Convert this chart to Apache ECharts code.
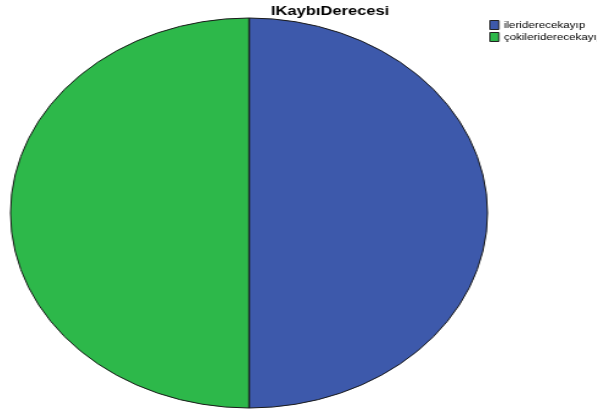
<!DOCTYPE html>
<html><head><meta charset="utf-8">
<script src="https://cdn.jsdelivr.net/npm/echarts@6/dist/echarts.min.js"></script>
<style>
html,body{margin:0;padding:0;background:#fff;overflow:hidden;}
#wrap{position:relative;width:597px;height:416px;overflow:hidden;}
#pie{position:absolute;left:0;top:0;width:498px;height:416px;transform-origin:249px 213px;transform:scaleX(1.2231);}
#over{position:absolute;left:0;top:0;width:560px;height:416px;transform-origin:0 0;transform:scaleX(1.2231);}
</style></head>
<body><div id="wrap"><div id="pie"></div><div id="over"></div></div>
<script>
const titleText = 'IKaybıDerecesi';
const categories = ['ileriderecekayıp', 'çokileriderecekayıp'];
const values = [50, 50];
const colors = ['#3D59AB', '#2DB84A'];

const data = categories.map((c, i) => ({name: c, value: values[i], itemStyle: {color: colors[i]}}));

const pie = echarts.init(document.getElementById('pie'), null, {renderer: 'canvas'});
pie.setOption({
  animation: false,
  series: [{
    type: 'pie',
    center: [249, 213],
    radius: [0, 195],
    startAngle: 90,
    clockwise: true,
    label: {show: false},
    labelLine: {show: false},
    emphasis: {disabled: true},
    itemStyle: {borderColor: '#1a1a1a', borderWidth: 1},
    data: data
  }]
});

const over = echarts.init(document.getElementById('over'), null, {renderer: 'canvas'});
over.setOption({
  animation: false,
  title: {
    text: titleText,
    left: 264.8, top: -1, textAlign: 'center',
    textStyle: {fontFamily: 'Liberation Sans', fontWeight: 'bold', fontSize: 13.5, color: '#000'}
  },
  legend: {
    orient: 'vertical',
    left: 395, top: 15,
    itemWidth: 7.4, itemHeight: 9, itemGap: 2,
    icon: 'rect',
    itemStyle: {borderColor: '#222', borderWidth: 1},
    textStyle: {fontFamily: 'Liberation Sans', fontSize: 9.5, color: '#000', padding: [0, 0, 0, -1]},
    data: categories
  },
  series: [{
    type: 'pie',
    radius: [0, 0],
    center: [-100, -100],
    silent: true,
    label: {show: false},
    labelLine: {show: false},
    data: data
  }]
});
</script></body></html>
